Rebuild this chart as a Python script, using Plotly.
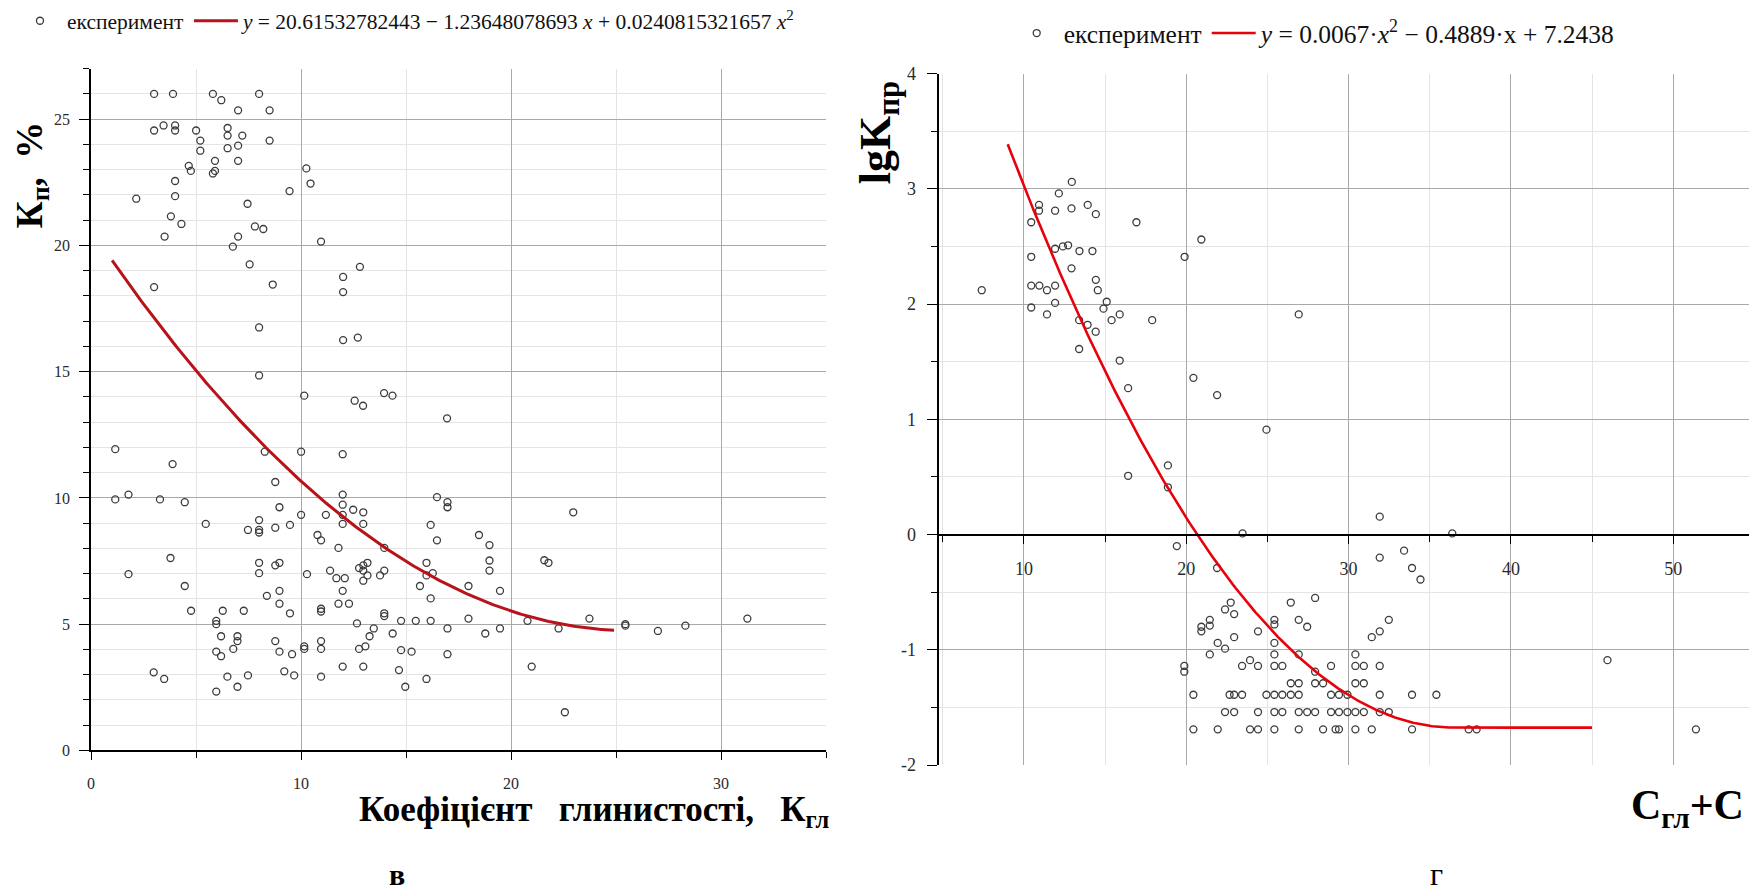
import numpy as np
import plotly.graph_objects as go

W, H = 1749, 896
SERIF = "Liberation Serif"

# ---- panel "в": porosity coefficient vs clay coefficient ----
kgl = [3.0, 3.9, 5.8, 6.2, 8.0, 7.0, 8.5,
       3.0, 3.45, 4.0, 4.0, 5.0, 5.2, 5.2,
       6.5, 6.5, 7.2, 6.5, 7.0, 8.5,
       5.9, 7.0, 4.65, 4.75, 5.8, 5.9,
       10.25, 10.45, 9.45,
       4.0, 4.0, 2.15, 7.45, 3.8, 4.3,
       7.8, 8.2, 3.5, 7.0, 6.75, 10.95,
       7.55, 12.8, 12.0, 12.0, 3.0, 8.65,
       8.0, 12.0, 12.7, 8.0, 10.15, 13.95, 14.35, 12.55, 12.95, 16.95,
       1.15, 3.88, 8.27, 10.0, 11.98, 8.77,
       1.15, 1.78, 3.28, 4.46,
       11.98, 11.98, 11.18, 10.0, 8.97, 12.48, 12.96, 11.98,
       11.98, 12.96,
       16.47, 16.97, 16.97, 22.96,
       5.46, 8.0, 9.47, 8.77, 7.47, 8.0, 8.0, 16.17,
       10.78, 10.95, 16.47, 18.47, 18.97, 11.78, 13.96,
       3.78, 8.0, 8.97, 8.77, 18.97, 18.97, 15.97, 21.58, 21.78,
       12.76, 12.96, 13.16, 12.96, 13.16, 12.96, 13.96, 13.76,
       11.38, 11.68, 12.08, 10.28, 8.0, 1.78, 16.27, 15.97,
       4.46, 15.66, 17.97, 11.98, 8.97, 19.47, 8.37, 16.17,
       8.97, 11.78, 12.28, 10.95, 10.95, 4.76, 6.27, 7.27, 9.47,
       13.96, 13.96, 5.96, 5.96, 17.97, 23.73, 31.25,
       12.66, 14.76, 15.46, 16.17, 20.78, 25.44, 25.44, 28.3, 26.99,
       13.46, 16.97, 19.47, 22.26, 18.77, 14.36, 13.26,
       6.19, 6.97, 6.97, 8.77, 10.95, 10.15, 10.15, 10.95,
       12.76, 13.06, 6.77, 5.96, 6.19, 8.97, 9.57, 14.76, 15.26,
       16.97, 20.98, 11.98, 12.96, 2.98, 3.48, 9.2, 9.67, 7.47, 6.49,
       10.95, 14.66, 15.97, 6.97, 5.96, 14.96, 22.56]
kp = [26.0, 26.0, 26.0, 25.75, 26.0, 25.35, 25.35,
      24.55, 24.75, 24.75, 24.55, 24.55, 24.15, 23.75,
      24.65, 24.35, 24.35, 23.85, 23.95, 24.15,
      23.35, 23.35, 23.15, 22.95, 22.85, 22.95,
      23.05, 22.45, 22.15,
      22.55, 21.95, 21.85, 21.65, 21.15, 20.85,
      20.75, 20.65, 20.35, 20.35, 19.95, 20.15,
      19.25, 19.15, 18.75, 18.15, 18.35, 18.45,
      16.75, 16.25, 16.35, 14.85, 14.05, 14.15, 14.05, 13.85, 13.65, 13.15,
      11.93, 11.34, 11.83, 11.83, 11.73, 10.63,
      9.94, 10.13, 9.94, 9.83,
      10.13, 9.73, 9.33, 9.33, 9.63, 9.53, 9.43, 9.33,
      8.97, 8.97,
      10.03, 9.83, 9.63, 9.43,
      8.97, 9.12, 8.93, 8.82, 8.73, 8.73, 8.63, 8.93,
      8.53, 8.32, 8.32, 8.53, 8.13, 8.02, 8.02,
      7.62, 7.43, 7.43, 7.33, 7.52, 7.12, 7.43, 7.53, 7.43,
      7.22, 7.33, 7.43, 7.12, 6.93, 6.72, 7.12, 6.93,
      7.12, 6.82, 6.82, 6.98, 7.02, 6.98, 7.02, 6.93,
      6.51, 6.51, 6.51, 6.32, 6.32, 6.32, 6.12, 6.02,
      5.81, 5.81, 5.81, 5.61, 5.5, 5.53, 5.53, 5.53, 5.43,
      5.43, 5.32, 5.13, 5.0, 5.22, 5.22, 5.22,
      5.03, 5.13, 5.13, 5.13, 5.13, 5.0, 4.94, 4.94, 4.73,
      4.83, 4.83, 4.83, 4.83, 4.63, 4.63, 4.52,
      4.52, 4.52, 4.33, 4.33, 4.33, 4.12, 4.02, 4.02,
      4.02, 4.12, 4.02, 3.91, 3.73, 3.91, 3.81, 3.97, 3.91,
      3.81, 3.32, 3.32, 3.32, 3.09, 2.83, 3.13, 2.97, 2.97, 2.92,
      2.92, 3.18, 2.83, 2.52, 2.33, 2.52, 1.51]

# ---- panel "г": lg of permeability vs clay + carbonate content ----
cgl = [12.95, 12.15, 10.93, 10.93, 11.92, 12.93, 13.93, 14.43,
       10.45, 16.93, 20.93,
       11.92, 12.4, 12.72, 13.42, 14.22,
       10.45, 19.9, 12.93, 14.43,
       10.45, 10.95, 11.92, 11.42, 14.55, 7.4,
       11.92, 15.1, 14.9, 10.45, 11.42, 15.9, 15.4, 17.9, 26.93,
       13.4, 13.92, 14.42, 13.4, 15.9, 20.44, 16.42, 21.9, 24.94,
       16.42, 18.87, 18.87, 31.92, 23.47, 36.39, 19.42,
       31.92, 33.42, 33.91, 34.43, 21.9,
       27.94, 26.44, 22.74, 22.39, 22.95,
       25.43, 25.43, 26.93, 27.45, 32.48,
       20.93, 20.93, 21.45, 21.45, 24.42, 31.92, 31.43, 22.95,
       25.43, 21.94, 22.39, 21.45, 25.43, 26.93, 30.42,
       19.88, 19.88, 23.93, 23.44, 24.42, 25.43, 25.92, 28.92, 30.42, 30.94, 31.92,
       45.95,
       27.94, 27.94, 28.43, 26.44, 26.93, 30.42, 30.94,
       20.44, 22.67, 22.95, 23.44, 24.94, 25.43, 25.92, 26.44, 26.93, 28.92, 29.41,
       29.93, 31.92, 33.91, 35.41,
       22.39, 22.95, 24.42, 25.43, 25.92, 26.93, 27.45, 27.94, 28.92, 29.41, 29.93,
       30.42, 30.94, 31.92, 32.48,
       20.44, 21.94, 23.93, 24.42, 25.43, 26.93, 28.43, 29.2, 29.41, 30.42, 31.43,
       33.91, 37.4, 37.89, 51.4]
lgk = [3.06, 2.96, 2.86, 2.81, 2.81, 2.83, 2.86, 2.78,
       2.71, 2.71, 2.56,
       2.48, 2.50, 2.51, 2.46, 2.46,
       2.41, 2.41, 2.31, 2.21,
       2.16, 2.16, 2.16, 2.12, 2.12, 2.12,
       2.01, 2.02, 1.96, 1.97, 1.91, 1.91, 1.86, 1.86, 1.91,
       1.86, 1.82, 1.76, 1.61, 1.51, 1.36, 1.27, 1.21, 0.91,
       0.51, 0.60, 0.41, 0.155, 0.01, 0.01, -0.10,
       -0.20, -0.14, -0.29, -0.39, -0.29,
       -0.55, -0.59, -0.59, -0.65, -0.69,
       -0.74, -0.78, -0.74, -0.80, -0.74,
       -0.80, -0.84, -0.74, -0.79, -0.84, -0.84, -0.89, -0.89,
       -0.94, -0.94, -0.99, -1.04, -1.04, -1.04, -1.04,
       -1.14, -1.19, -1.09, -1.14, -1.14, -1.14, -1.14, -1.14, -1.14, -1.14, -1.14,
       -1.09,
       -1.19, -1.29, -1.29, -1.29, -1.29, -1.29, -1.29,
       -1.39, -1.39, -1.39, -1.39, -1.39, -1.39, -1.39, -1.39, -1.39, -1.39, -1.39,
       -1.39, -1.39, -1.39, -1.39,
       -1.54, -1.54, -1.54, -1.54, -1.54, -1.54, -1.54, -1.54, -1.54, -1.54, -1.54,
       -1.54, -1.54, -1.54, -1.54,
       -1.69, -1.69, -1.69, -1.69, -1.69, -1.69, -1.69, -1.69, -1.69, -1.69, -1.69,
       -1.69, -1.69, -1.69, -1.69]

# regression coefficients printed in the legends
fit_v = (20.61532782443, -1.23648078693, 0.0240815321657)   # c0 + c1 x + c2 x^2
fit_v_span = (1.0, 24.9)
fit_g = (0.0067, -0.4889, 7.2438)                           # a x^2 + b x + c
fit_g_span = (9.0, 45.0)

xv = np.linspace(*fit_v_span, 240)
yv = fit_v[0] + fit_v[1] * xv + fit_v[2] * xv ** 2

a, b, c = fit_g
x_min = -b / (2 * a)                      # trend is held at its minimum past the vertex
xg = np.linspace(*fit_g_span, 360)
xg_c = np.minimum(xg, x_min)
yg = a * xg_c ** 2 + b * xg_c + c

MARK = dict(symbol="circle-open", size=7, color="#3c3c3c", line=dict(width=1.3, color="#3c3c3c"))

fig = go.Figure()
fig.add_trace(go.Scatter(x=kgl, y=kp, mode="markers", marker=MARK, name="експеримент",
                         xaxis="x", yaxis="y", legend="legend"))
fig.add_trace(go.Scatter(x=xv, y=yv, mode="lines", line=dict(color="#b8121b", width=3),
                         name="<i>y</i> = 20.61532782443 − 1.23648078693 <i>x</i> + 0.0240815321657 <i>x</i><sup>2</sup>",
                         xaxis="x", yaxis="y", legend="legend"))
fig.add_trace(go.Scatter(x=cgl, y=lgk, mode="markers", marker=MARK, name="експеримент",
                         xaxis="x2", yaxis="y2", legend="legend2"))
fig.add_trace(go.Scatter(x=xg, y=yg, mode="lines", line=dict(color="#e8000b", width=2.6),
                         name="<i>y</i> = 0.0067·<i>x</i><sup>2</sup> − 0.4889·x + 7.2438",
                         xaxis="x2", yaxis="y2", legend="legend2"))
# carrier for the axis drawn through y = 0
fig.add_trace(go.Scatter(x=[None], y=[None], xaxis="x3", yaxis="y2", showlegend=False, hoverinfo="skip"))

MAJOR = "#a9a9a9"
MINOR = "#e4e4e4"
tickfont_v = dict(family=SERIF, size=16, color="#2a2a2a")
tickfont_g = dict(family=SERIF, size=18, color="#2a2a2a")

# left panel geometry (pixels)
L_x0, L_x1, L_top, L_bot = 87.3, 824.0, 60.0, 757.3
# right panel geometry (pixels)
R_x0, R_top, R_bot = 936.7, 65.0, 772.3
R_range = [-2, 4]
R_zero = R_bot - (0 - R_range[0]) / (R_range[1] - R_range[0]) * (R_bot - R_top)

fig.update_layout(
    width=W, height=H,
    margin=dict(l=0, r=0, t=0, b=0),
    paper_bgcolor="white", plot_bgcolor="white",
    font=dict(family=SERIF, color="#111"),
    showlegend=True,
    xaxis=dict(domain=[L_x0 / W, L_x1 / W], anchor="y", range=[0, 35],
               tickmode="linear", tick0=0, dtick=10,
               showline=True, linecolor="black", linewidth=2,
               ticks="outside", ticklen=8, tickwidth=1.3, tickcolor="black",
               ticklabelstandoff=9,
               showgrid=True, gridcolor=MAJOR, gridwidth=1, zeroline=False,
               tickfont=tickfont_v,
               minor=dict(dtick=5, tick0=0, ticks="outside", ticklen=6, tickcolor="black",
                          showgrid=True, gridcolor=MINOR, gridwidth=1)),
    yaxis=dict(domain=[1 - L_bot / H, 1 - L_top / H], anchor="x", range=[0, 27],
               tickmode="linear", tick0=0, dtick=5,
               showline=True, linecolor="black", linewidth=2,
               ticks="outside", ticklen=10, tickwidth=1.3, tickcolor="black",
               ticklabelstandoff=6,
               showgrid=True, gridcolor=MAJOR, gridwidth=1, zeroline=False,
               tickfont=tickfont_v,
               minor=dict(dtick=1, tick0=0, ticks="outside", ticklen=6, tickcolor="black",
                          showgrid=True, gridcolor=MINOR, gridwidth=1)),
    xaxis2=dict(domain=[R_x0 / W, 1.0], anchor="y2", range=[4.74, 54.67],
                tickmode="linear", tick0=0, dtick=10,
                showline=False, ticks="", showticklabels=False,
                showgrid=True, gridcolor=MAJOR, gridwidth=1, zeroline=False,
                minor=dict(dtick=5, tick0=0, showgrid=True, gridcolor=MINOR, gridwidth=1)),
    xaxis3=dict(overlaying="x2", anchor="free", position=1 - R_zero / H, side="bottom",
                range=[4.74, 54.67], tickmode="linear", tick0=0, dtick=10,
                showline=True, linecolor="black", linewidth=2,
                ticks="outside", ticklen=8, tickwidth=1.3, tickcolor="black",
                ticklabelstandoff=10,
                showgrid=False, zeroline=False, tickfont=tickfont_g,
                minor=dict(dtick=5, tick0=0, ticks="outside", ticklen=6, tickcolor="black",
                           showgrid=False)),
    yaxis2=dict(domain=[1 - R_bot / H, 1 - R_top / H], anchor="x2", range=R_range,
                tickmode="array", tickvals=[-2, -1, 0, 1, 2, 3, 4],
                ticktext=["-2", "-1", "0", "1", "2", "3", "4"],
                showline=True, linecolor="black", linewidth=2,
                ticks="outside", ticklen=10, tickwidth=1.3, tickcolor="black",
                ticklabelstandoff=7,
                showgrid=True, gridcolor=MAJOR, gridwidth=1, zeroline=False,
                tickfont=tickfont_g,
                minor=dict(dtick=0.5, tick0=0, ticks="outside", ticklen=6, tickcolor="black",
                           showgrid=True, gridcolor=MINOR, gridwidth=1)),
    legend=dict(orientation="h", x=9 / W, xanchor="left", y=1 - 11 / H, yanchor="middle",
                itemwidth=44, bgcolor="rgba(0,0,0,0)", borderwidth=0,
                font=dict(family=SERIF, size=21.5, color="#111")),
    legend2=dict(orientation="h", x=1008 / W, xanchor="left", y=1 - 24 / H, yanchor="middle",
                 itemwidth=44, bgcolor="rgba(0,0,0,0)", borderwidth=0,
                 font=dict(family=SERIF, size=25.5, color="#111")),
)

ann = dict(xref="paper", yref="paper", showarrow=False, font=dict(family=SERIF, color="black"))
fig.add_annotation(**ann, text="<b>К<sub>п</sub>,  %</b>", textangle=-90,
                   x=28 / W, y=1 - 168 / H, xanchor="center", yanchor="middle",
                   font_size=37)
fig.add_annotation(**ann, text="<b>Коефіцієнт   глинистості,   К<sub>гл</sub></b>",
                   x=591 / W, y=1 - 820 / H, xanchor="center", yanchor="middle",
                   font_size=35)
fig.add_annotation(**ann, text="<b>lgK<sub>пр</sub></b>", textangle=-90,
                   x=876 / W, y=1 - 125 / H, xanchor="center", yanchor="middle",
                   font_size=44)
fig.add_annotation(**ann, text="<b>С<sub>гл</sub>+С</b>",
                   x=1746 / W, y=1 - 816 / H, xanchor="right", yanchor="middle",
                   font_size=42)
fig.add_annotation(**ann, text="<b>в</b>", x=394 / W, y=1 - 884 / H,
                   xanchor="center", yanchor="middle", font_size=30)
fig.add_annotation(**ann, text="г", x=1436 / W, y=1 - 884 / H,
                   xanchor="center", yanchor="middle", font_size=32)

fig.write_html("out.html")
